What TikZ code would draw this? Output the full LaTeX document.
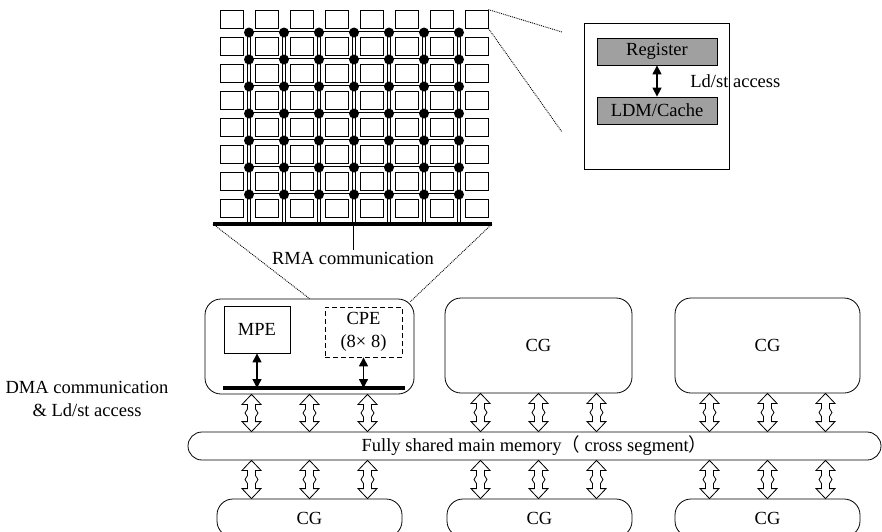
\documentclass[tikz,border=0pt]{standalone}
\usepackage{fontspec}
\setmainfont{Liberation Serif}
\newfontfamily\cjkfont{Noto Sans CJK SC}
\usetikzlibrary{arrows.meta,positioning,calc}

\definecolor{reggray}{RGB}{160,160,160}

\begin{document}
\begin{tikzpicture}[
  x=1pt, y=-1pt,
  font=\fontsize{18.5}{23}\selectfont,
  line width=0.8pt,
  cell/.style={draw, minimum width=23pt, minimum height=18pt, inner sep=0pt},
  junc/.style={circle, fill=black, minimum size=10pt, inner sep=0pt},
  mesh/.style={double, double distance=2pt, line width=0.7pt},
  cgbox/.style={draw, rounded corners=16pt, minimum height=95pt, inner sep=0pt},
  cgbot/.style={draw, rounded corners=16pt, minimum width=185pt, minimum height=38pt, inner sep=0pt},
  unit/.style={draw, inner sep=0pt, align=center},
  regbox/.style={draw, fill=reggray, minimum width=120pt, minimum height=27pt, inner sep=0pt},
  membar/.style={draw, rounded corners=14pt, minimum width=693pt, minimum height=28pt, inner sep=0pt},
  bus/.style={line width=4pt},
  zoomline/.style={densely dotted, line width=0.9pt},
  dbl/.style={line width=1.3pt, {Triangle[width=9pt,length=9pt]}-{Triangle[width=9pt,length=9pt]}},
  blk/.style={draw, fill=white, line width=0.8pt, to path={
    let \p1=(\tikztostart), \p2=(\tikztotarget),
        \p3=($(\tikztostart)!0.5!(\tikztotarget)$) in
    (\x1,\y1) -- (\x1+9.5pt,\y1-10pt) -- (\x1+4pt,\y1-10pt) -- (\x1+4pt,\y3+4pt)
    -- (\x1+6.5pt,\y3) -- (\x1+4pt,\y3-4pt) -- (\x1+4pt,\y2+10pt)
    -- (\x1+9.5pt,\y2+10pt) -- (\x1,\y2) -- (\x1-9.5pt,\y2+10pt)
    -- (\x1-4pt,\y2+10pt) -- (\x1-4pt,\y3-4pt) -- (\x1-6.5pt,\y3)
    -- (\x1-4pt,\y3+4pt) -- (\x1-4pt,\y1-10pt) -- (\x1-9.5pt,\y1-10pt) -- cycle}}
]
\clip (0,0) rectangle (882,531);

% 8x8 CPE array with its mesh
\foreach \i in {0,...,7}
  \foreach \j in {0,...,7}
    \node[cell] (c-\i-\j) at (231.5+35*\i, 19+27*\j) {};
\coordinate (busL) at (213,224);
\coordinate (busR) at (492,224);
\foreach \k in {0,...,6}
  \foreach \m in {0,...,6}
    \coordinate (j-\k-\m) at (249+35*\k, 32.5+27*\m);
\foreach \m in {0,...,6}
  \draw[mesh] (j-0-\m) -- (j-6-\m);
\foreach \k in {0,...,6}
  \draw[mesh] (j-\k-0) -- (j-\k-0 |- busL);
\foreach \k in {0,...,6}
  \foreach \m in {0,...,6}
    \node[junc] at (j-\k-\m) {};
\draw[bus] (busL) -- (busR);
\node[inner sep=1pt] (rma) at (353,258) {RMA communication};
\draw (rma.north |- busL) -- (rma.north);

% one CPE in detail
\node[draw, minimum width=145pt, minimum height=146pt] (det) at (656.5,96) {};
\node[regbox] (reg) at (657,51.5) {Register};
\node[regbox] (ldm) at (657,110.5) {LDM/Cache};
\draw[dbl] (reg) -- (ldm);
\node[anchor=west, inner sep=0pt] (ldst) at (690,81) {Ld/st access};
\coordinate (zA) at (562,32);
\coordinate (zB) at (562,132);
\draw[zoomline] (c-7-0.north east) -- (zA);
\draw[zoomline] (c-7-0.south east) -- (zB);

% core groups
\node[cgbox, minimum width=209pt] (cg1) at (309.5,346.5) {};
\node[cgbox, minimum width=187pt] (cg2) at (538.5,345.5) {CG};
\node[cgbox, minimum width=185pt] (cg3) at (767.5,345.5) {CG};
\node[unit, minimum width=66pt, minimum height=47pt] (mpe) at (257,329.5) {MPE};
\node[unit, dash pattern=on 5pt off 3pt, minimum width=77pt, minimum height=50pt] (cpe) at (363.5,332) {CPE\\(8× 8)};
\coordinate (ibusL) at (223,388);
\coordinate (ibusR) at (405,388);
\draw[bus] (ibusL) -- (ibusR);
\draw[dbl] (mpe.south) -- (mpe.south |- ibusL);
\draw[dbl] (cpe.south) -- (cpe.south |- ibusL);
\draw[zoomline] (busL) -- (cg1.north);
\draw[zoomline] (busR) -- ([xshift=-4pt,yshift=-3pt]cg1.north east);

\node[align=center] (dma) at (87,399) {DMA communication\\\& Ld/st access};

% shared memory and the lower groups
\node[membar] (mem) at (534.5,446) {Fully shared main memory{\cjkfont （}\ cross segment{\cjkfont ）}};
\node[cgbot] (cgb1) at (309.5,518) {CG};
\node[cgbot] (cgb2) at (539.5,518) {CG};
\node[cgbot] (cgb3) at (767.5,518) {CG};
\foreach \n in {1,2,3}
  \foreach \d in {-58,0,58} {
    \draw[blk] ($(cg\n.south)+(\d,0)$) to ($(cg\n.south |- mem.north)+(\d,0)$);
    \draw[blk] ($(cg\n.south |- mem.south)+(\d,0)$) to ($(cg\n.south |- cgb\n.north)+(\d,0)$);
  }
\end{tikzpicture}
\end{document}
